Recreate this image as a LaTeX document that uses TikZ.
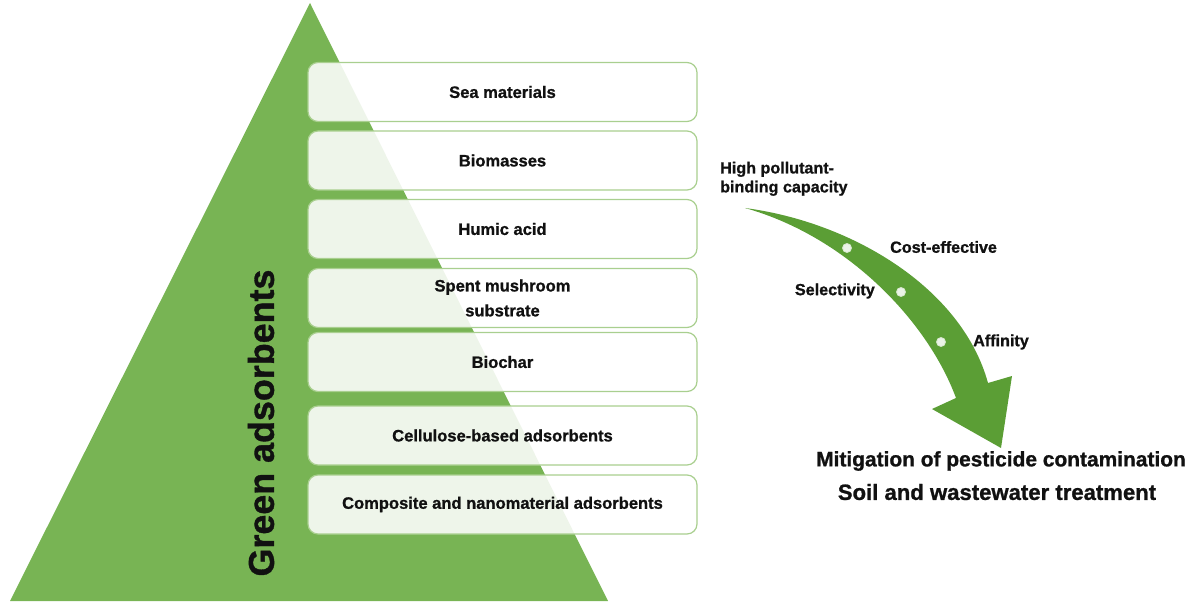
\documentclass[tikz,border=0pt]{standalone}
\usepackage{fontspec}
\setmainfont{Liberation Sans}[BoldFeatures={FakeBold=1}]
\usetikzlibrary{positioning,calc}
\usepackage{xcolor}
\definecolor{pyrgreen}{HTML}{78B454}
\definecolor{arrgreen}{HTML}{5B9E35}
\definecolor{edgegreen}{HTML}{A9CF8F}
\definecolor{ink}{HTML}{111111}
\tikzset{
  layerbox/.style={draw=edgegreen, line width=1.2bp, rounded corners=10bp, fill=white, fill opacity=0.88, text opacity=1, text=ink,
    align=center, minimum width=389bp, minimum height=59bp, inner sep=0pt, font=\bfseries\fontsize{16.6}{25}\selectfont},
  sidetext/.style={text=ink, align=left, inner sep=0pt, font=\bfseries\fontsize{16.2}{19}\selectfont},
  goaltext/.style={text=ink, inner sep=0pt, font=\bfseries\fontsize{21.3}{24}\selectfont},
  waydot/.style={circle, draw=white!75!arrgreen, line width=0.8bp, fill=white!88!arrgreen, minimum size=9bp, inner sep=0pt}
}

\begin{document}
\begin{tikzpicture}[x=1bp, y=-1bp]
  \useasboundingbox (0,0) rectangle (1200,604);
  % pyramid
  \coordinate (apex) at (310,3);
  \coordinate (baseL) at (10,601);
  \coordinate (baseR) at (608,601);
  \fill[pyrgreen] (apex) -- (baseR) -- (baseL) -- cycle;
  \node[rotate=90, text=ink, inner sep=0pt, font=\bfseries\fontsize{36}{40}\selectfont] (title) at (261,423) {Green adsorbents};
  % layers
  \node[layerbox] (sea) at (502.5,92) {Sea materials};
  \node[layerbox] (bio) at (502.5,160.5) {Biomasses};
  \node[layerbox] (humic) at (502.5,229) {Humic acid};
  \node[layerbox] (mush) at (502.5,298) {Spent mushroom\\substrate};
  \node[layerbox] (char) at (502.5,362) {Biochar};
  \node[layerbox] (cell) at (502.5,435.5) {Cellulose-based adsorbents};
  \node[layerbox] (comp) at (502.5,504.5) {Composite and nanomaterial adsorbents};
  % curved arrow
  \coordinate (tail) at (745,208);
  \coordinate (neckR) at (988,383);
  \coordinate (barbR) at (1012,376);
  \coordinate (tip) at (1001,448);
  \coordinate (barbL) at (932,409);
  \coordinate (neckL) at (956,398);
  \fill[arrgreen] (tail) .. controls (852,222) and (962,288) .. (neckR) -- (barbR) -- (tip) -- (barbL) -- (neckL)
    .. controls (928,322) and (848,237) .. (tail) -- cycle;
  \node[waydot] (d1) at (847,248) {};
  \node[waydot] (d2) at (901,292) {};
  \node[waydot] (d3) at (941,342) {};
  \node[sidetext, anchor=south west] (bind) at (720,196) {High pollutant-\\binding capacity};
  \node[sidetext, anchor=west] (cost) at (890,247) {Cost-effective};
  \node[sidetext, anchor=east] (sel) at (875,291) {Selectivity};
  \node[sidetext, anchor=west] (aff) at (973,342) {Affinity};
  % outcomes
  \node[goaltext, font=\bfseries\fontsize{21}{24}\selectfont] (mitig) at (1001,461) {Mitigation of pesticide contamination};
  \node[goaltext, font=\bfseries\fontsize{22.2}{24}\selectfont] (soil) at (997,492) {Soil and wastewater treatment};
\end{tikzpicture}
\end{document}
